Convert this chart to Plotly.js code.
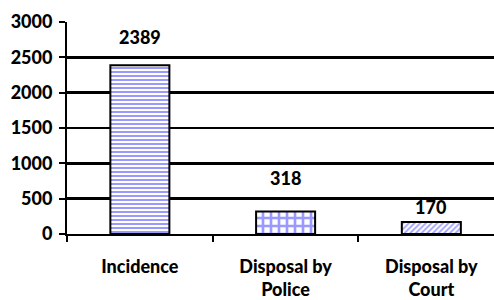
<!DOCTYPE html>
<html>
<head>
<meta charset="utf-8">
<script src="https://cdn.plot.ly/plotly-3.0.1.min.js"></script>
<style>
html,body{margin:0;padding:0;overflow:hidden;background:#fff;}
#chart{width:494px;height:300px;}
</style>
</head>
<body>
<div id="chart"></div>
<script>
var categories = ["Incidence", "Disposal by<br>Police", "Disposal by<br>Court"];
var values = [2389, 318, 170];
var yTicks = [0, 500, 1000, 1500, 2000, 2500, 3000];

var patternShapes = ["-", "+", "/"];
var patternSizes = [4, 8, 4];
var patternSolidity = [0.5, 0.55, 0.4];
var labelShift = [15, 21, 2];

var BOLD = {family: "Lato, 'Open Sans', sans-serif", size: 18, color: "#000", weight: 900};

var trace = {
  type: "bar",
  x: categories,
  y: values,
  width: 0.405,
  marker: {
    color: "#ffffff",
    line: {color: "#000", width: 2},
    pattern: {
      shape: patternShapes,
      fgcolor: "#9999ff",
      bgcolor: "#ffffff",
      size: patternSizes,
      solidity: patternSolidity,
      fillmode: "replace"
    }
  },
  hoverinfo: "none"
};

var annotations = values.map(function(v, i){
  return {
    x: categories[i], y: v, text: String(v), showarrow: false,
    yanchor: "bottom", yshift: labelShift[i], font: BOLD
  };
});

var layout = {
  width: 494, height: 300,
  margin: {l: 67, r: 0, t: 22, b: 66},
  paper_bgcolor: "#fff", plot_bgcolor: "#fff",
  showlegend: false,
  font: BOLD,
  xaxis: {
    type: "category",
    range: [-0.5, 2.43],
    showline: true, linecolor: "#000", linewidth: 2,
    ticks: "outside", ticklen: 6, tickwidth: 2, tickcolor: "#000",
    tickson: "boundaries",
    ticklabelstandoff: 15,
    showgrid: false, zeroline: false,
    tickfont: BOLD,
    fixedrange: true
  },
  yaxis: {
    range: [0, 3000],
    tickvals: yTicks,
    ticktext: yTicks.map(String),
    showline: true, linecolor: "#000", linewidth: 2,
    ticks: "outside", ticklen: 6, tickwidth: 2, tickcolor: "#000",
    ticklabelstandoff: 3,
    showgrid: true, gridcolor: "#000", gridwidth: 2.5,
    zeroline: false,
    tickfont: BOLD,
    fixedrange: true
  },
  annotations: annotations
};

Plotly.newPlot("chart", [trace], layout, {displayModeBar: false, staticPlot: true});
</script>
</body>
</html>
